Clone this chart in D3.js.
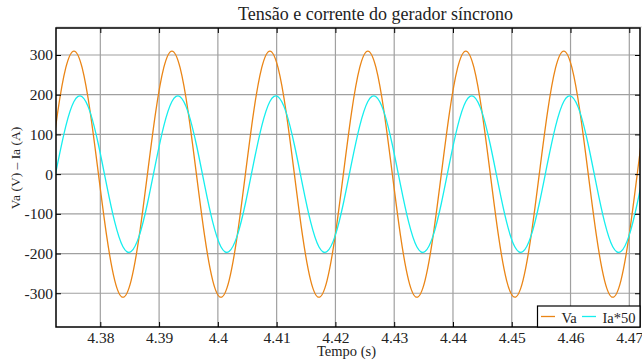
<!DOCTYPE html>
<html>
<head>
<meta charset="utf-8">
<style>
body { margin: 0; background: #fff; }
svg { display: block; }
.grid line { stroke: #a0a0a0; stroke-width: 1.2; }
.axis line { stroke: #000; }
</style>
</head>
<body>
<svg width="642" height="363"></svg>
<script src="https://d3js.org/d3.v7.min.js"></script>
<script>

// sampled signals, one sample every 30 degrees of a 60 Hz cycle
var sampleStart = 4.37135,
    sampleStep = 1 / 720;

var vaValues = [
  0, 155, 268, 310, 268, 155, 0, -155, -268, -310, -268, -155,
  0, 155, 268, 310, 268, 155, 0, -155, -268, -310, -268, -155,
  0, 155, 268, 310, 268, 155, 0, -155, -268, -310, -268, -155,
  0, 155, 268, 310, 268, 155, 0, -155, -268, -310, -268, -155,
  0, 155, 268, 310, 268, 155, 0, -155, -268, -310, -268, -155,
  0, 155, 268, 310, 268, 155, 0, -155, -268, -310, -268, -155,
  0, 155, 268
];

var iaValues = [
  -74, 27, 121, 183, 195, 155, 74, -27, -121, -183, -195, -155,
  -74, 27, 121, 183, 195, 155, 74, -27, -121, -183, -195, -155,
  -74, 27, 121, 183, 195, 155, 74, -27, -121, -183, -195, -155,
  -74, 27, 121, 183, 195, 155, 74, -27, -121, -183, -195, -155,
  -74, 27, 121, 183, 195, 155, 74, -27, -121, -183, -195, -155,
  -74, 27, 121, 183, 195, 155, 74, -27, -121, -183, -195, -155,
  -74, 27, 121
];

var xTicks = [4.38, 4.39, 4.40, 4.41, 4.42, 4.43, 4.44, 4.45, 4.46, 4.47];
var xTickLabels = ["4.38", "4.39", "4.4", "4.41", "4.42", "4.43", "4.44", "4.45", "4.46", "4.47"];
var yTicks = [-300, -200, -100, 0, 100, 200, 300];
var yTickLabels = ["-300", "-200", "-100", "0", "100", "200", "300"];

var seriesNames = ["Va", "Ia*50"];
var seriesColors = ["#ea8516", "#16eeee"];

var serif = "Liberation Serif";
var svg = d3.select("svg");
var plotLeft = 56, plotRight = 640, plotTop = 28, plotBottom = 327;

var x = d3.scaleLinear().domain([4.37246, 4.47182]).range([plotLeft, plotRight]);
var y = d3.scaleLinear().domain([-385, 368]).range([plotBottom, plotTop]);

svg.append("defs").append("clipPath").attr("id", "plot")
  .append("rect").attr("x", plotLeft).attr("y", plotTop)
  .attr("width", plotRight - plotLeft).attr("height", plotBottom - plotTop);

// faint line above the frame
svg.append("line").attr("x1", plotLeft).attr("x2", plotRight + 2)
  .attr("y1", plotTop - 1).attr("y2", plotTop - 1)
  .attr("stroke", "#cfcfcf").attr("stroke-width", 1);

// grid
var grid = svg.append("g").attr("class", "grid");
grid.selectAll(".v").data(xTicks).enter().append("line")
  .attr("x1", function(d) { return x(d); }).attr("x2", function(d) { return x(d); })
  .attr("y1", plotTop).attr("y2", plotBottom);
grid.selectAll(".h").data(yTicks).enter().append("line")
  .attr("x1", plotLeft).attr("x2", plotRight)
  .attr("y1", function(d) { return y(d); }).attr("y2", function(d) { return y(d); });

// signals
var series = [vaValues, iaValues];
var line = d3.line()
  .x(function(d, i) { return x(sampleStart + i * sampleStep); })
  .y(function(d) { return y(d); })
  .curve(d3.curveNatural);

svg.append("g").attr("clip-path", "url(#plot)")
  .selectAll("path").data(series).enter().append("path")
  .attr("d", line)
  .attr("fill", "none")
  .attr("stroke", function(d, i) { return seriesColors[i]; })
  .attr("stroke-width", 1.3);

// axes
var xAxis = svg.append("g").attr("class", "axis")
  .attr("transform", "translate(0," + plotBottom + ")")
  .call(d3.axisBottom(x).tickValues(xTicks)
    .tickFormat(function(d, i) { return xTickLabels[i]; })
    .tickSize(-5).tickPadding(4.5));
xAxis.select(".domain").remove();

var yAxis = svg.append("g").attr("class", "axis")
  .attr("transform", "translate(" + plotLeft + ",0)")
  .call(d3.axisLeft(y).tickValues(yTicks)
    .tickFormat(function(d, i) { return yTickLabels[i]; })
    .tickSize(-5).tickPadding(3));
yAxis.select(".domain").remove();

svg.selectAll(".axis text")
  .style("font-family", serif).style("font-size", "15.5px").attr("fill", "#222");

var topAxis = svg.append("g").attr("class", "axis")
  .attr("transform", "translate(0," + plotTop + ")")
  .call(d3.axisTop(x).tickValues(xTicks).tickFormat("").tickSize(-5));
topAxis.select(".domain").remove();

var rightAxis = svg.append("g").attr("class", "axis")
  .attr("transform", "translate(" + plotRight + ",0)")
  .call(d3.axisRight(y).tickValues(yTicks).tickFormat("").tickSize(-5));
rightAxis.select(".domain").remove();

// frame
svg.append("rect").attr("x", plotLeft).attr("y", plotTop)
  .attr("width", plotRight - plotLeft).attr("height", plotBottom - plotTop)
  .attr("fill", "none").attr("stroke", "#000").attr("stroke-width", 1.5);

// labels
svg.append("text").attr("x", 375.5).attr("y", 20)
  .attr("text-anchor", "middle").attr("fill", "#222")
  .style("font-family", serif).style("font-size", "18px")
  .text("Tensão e corrente do gerador síncrono");

svg.append("text").attr("x", 346.5).attr("y", 356)
  .attr("text-anchor", "middle").attr("fill", "#222")
  .style("font-family", serif).style("font-size", "14.5px")
  .text("Tempo (s)");

svg.append("text").attr("transform", "translate(20,168) rotate(-90)")
  .attr("text-anchor", "middle").attr("fill", "#222")
  .style("font-family", serif).style("font-size", "13.5px")
  .text("Va (V) – Ia (A)");

// legend
var legend = svg.append("g");
legend.append("rect").attr("x", 537.5).attr("y", 306)
  .attr("width", plotRight - 537.5).attr("height", plotBottom - 306)
  .attr("fill", "#fff").attr("stroke", "#000").attr("stroke-width", 1.2);
var legendX = [541, 582];
var textX = [561.5, 602.5];
seriesNames.forEach(function(name, i) {
  legend.append("line").attr("x1", legendX[i]).attr("x2", legendX[i] + 14)
    .attr("y1", 316.5).attr("y2", 316.5)
    .attr("stroke", seriesColors[i]).attr("stroke-width", 1.3);
  legend.append("text").attr("x", textX[i]).attr("y", 322.5).attr("fill", "#222")
    .style("font-family", serif).style("font-size", "14.5px").text(name);
});

</script>
</body>
</html>
